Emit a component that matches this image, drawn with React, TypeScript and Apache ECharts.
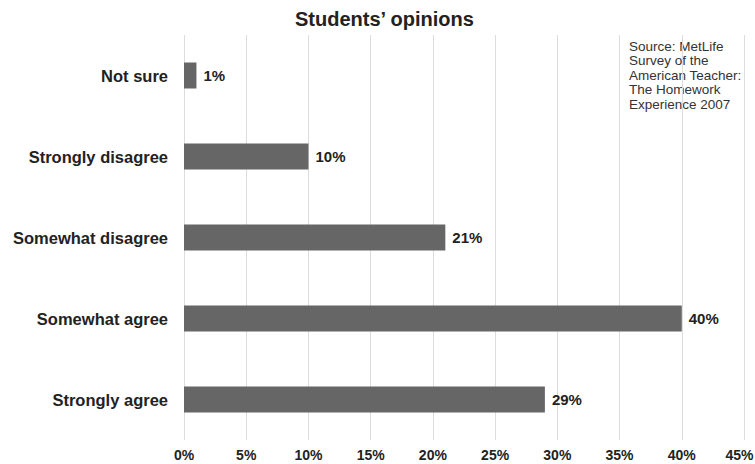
import React, { useEffect, useRef } from "react";
import * as echarts from "echarts";

const categories = ["Strongly agree", "Somewhat agree", "Somewhat disagree", "Strongly disagree", "Not sure"];
const values = [29, 40, 21, 10, 1];
const titleText = "Students\u2019 opinions";
const sourceLines = ["Source: MetLife", "Survey of the", "American Teacher:", "The Homework", "Experience 2007"];

const FONT = "'Liberation Sans', Arial, sans-serif";

export default function App() {
  const ref = useRef<HTMLDivElement>(null);
  useEffect(() => {
    if (!ref.current) return;
    const chart = echarts.init(ref.current, undefined, { renderer: "svg" });
    chart.setOption({
      animation: false,
      backgroundColor: "#ffffff",
      textStyle: { fontFamily: FONT },
      grid: { left: 184, right: 11, top: 35, bottom: 24, containLabel: false, outerBoundsMode: "none" },
      xAxis: {
        type: "value",
        min: 0,
        max: 45,
        interval: 5,
        axisLine: { show: false },
        axisTick: { show: false },
        splitLine: { show: true, lineStyle: { color: "#dcdcdc", width: 1 } },
        axisLabel: {
          formatter: (v: number) => (v === 45 ? `{last|${v}%}` : `${v}%`),
          fontSize: 14,
          fontWeight: "bold",
          color: "#222",
          margin: 8,
          fontFamily: FONT,
          rich: {
            last: {
              fontSize: 14,
              fontWeight: "bold",
              color: "#222",
              fontFamily: FONT,
              padding: [0, 9, 0, 0],
            },
          },
        },
      },
      yAxis: {
        type: "category",
        data: categories,
        axisLine: { show: false },
        axisTick: { show: false },
        splitLine: { show: false },
        axisLabel: {
          fontSize: 16.5,
          fontWeight: "bold",
          color: "#222",
          margin: 16,
          fontFamily: FONT,
        },
      },
      series: [
        {
          type: "bar",
          data: values,
          barWidth: 26,
          itemStyle: { color: "#666666" },
          label: {
            show: true,
            position: "right",
            distance: 7,
            formatter: "{c}%",
            fontSize: 15,
            fontWeight: "bold",
            color: "#222",
            fontFamily: FONT,
          },
        },
      ],
      graphic: [
        {
          type: "text",
          left: 295,
          top: 9,
          style: {
            text: titleText,
            font: `bold 20px ${FONT}`,
            fill: "#222",
          },
        },
        {
          type: "text",
          left: 629,
          top: 39,
          style: {
            text: sourceLines.join("\n"),
            font: `13.5px ${FONT}`,
            lineHeight: 14.5,
            fill: "#333",
          },
        },
      ],
    });
    return () => chart.dispose();
  }, []);
  return <div ref={ref} style={{ width: 755, height: 464, position: "absolute", left: 0, top: 0 }} />;
}
